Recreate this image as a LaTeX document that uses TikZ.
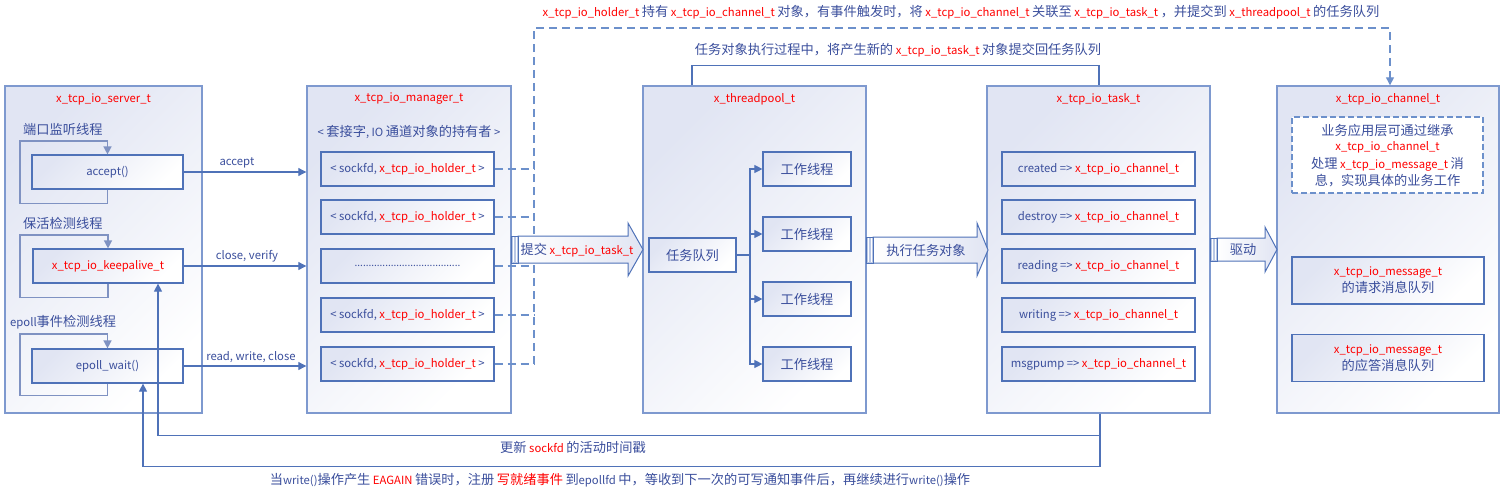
\documentclass[tikz,border=0pt]{standalone}
\usepackage{fontspec}
\setmainfont{Noto Sans CJK SC}
\newfontface\cjkface{Noto Sans CJK SC}[Scale=1.17]
\usetikzlibrary{arrows.meta}
\XeTeXinterchartokenstate=1
\newXeTeXintercharclass\CJKcls
\count255="4E00
\loop\XeTeXcharclass\count255=\CJKcls\ifnum\count255<"9FFF\advance\count255 by 1\repeat
\count255="3000
\loop\XeTeXcharclass\count255=\CJKcls\ifnum\count255<"303F\advance\count255 by 1\repeat
\count255="FF00
\loop\XeTeXcharclass\count255=\CJKcls\ifnum\count255<"FFEF\advance\count255 by 1\repeat
\XeTeXinterchartoks 0 \CJKcls={\begingroup\cjkface}
\XeTeXinterchartoks 4095 \CJKcls={\begingroup\cjkface}
\XeTeXinterchartoks \CJKcls 0={\endgroup}
\XeTeXinterchartoks \CJKcls 4095={\endgroup}
\definecolor{tblue}{HTML}{3A4E9C}
\definecolor{tred}{HTML}{FF0000}
\definecolor{bline}{HTML}{4F72B8}
\definecolor{oline}{HTML}{7E99CF}
\definecolor{lline}{HTML}{7F92C2}
\definecolor{fillA}{HTML}{E1E5F3}
\definecolor{dline}{HTML}{6C90CB}
\newcommand{\rd}[1]{\textcolor{tred}{#1}}
\begin{document}
\begin{tikzpicture}[x=1pt,y=-1pt,
  font=\fontsize{11.3}{17}\selectfont, text=tblue,
  outer/.style={draw=oline, line width=1.4pt, top color=fillA, bottom color=white, shading angle=45, inner sep=0, minimum height=327pt},
  inbox/.style={draw=bline, line width=1.2pt, top color=fillA, bottom color=white, shading angle=45, inner sep=0, minimum height=34pt},
  msgbox/.style={draw=bline, line width=1.2pt, top color=fillA, bottom color=white, shading angle=45, inner sep=0, minimum width=192pt, minimum height=47pt, align=center},
  dashbox/.style={draw=dline, line width=1.3pt, dash pattern=on 6pt off 3pt, fill=white, inner sep=0, minimum width=191pt, minimum height=76pt},
  conn/.style={draw=bline, line width=1.1pt, -{Triangle[length=8pt,width=8pt]}},
  plainconn/.style={draw=bline, line width=1.1pt},
  loopline/.style={draw=lline, line width=1.4pt, -{Triangle[length=8pt,width=8pt]}},
  dashconn/.style={draw=dline, line width=1.3pt, dash pattern=on 8pt off 5pt},
  barrow/.style={draw=bline, line width=1pt, top color=white, bottom color=fillA, shading angle=90},
  btail/.style={draw=bline, line width=0.8pt, fill=fillA!60!oline},
  lbl/.style={inner sep=1pt}
]
\useasboundingbox (0,0) rectangle (1504,496);

% ---------- outer containers ----------
\node[outer, minimum width=197pt] (server) at (103.5,249.5) {};
\node[outer, minimum width=204pt] (mgr) at (409,249.5) {};
\node[outer, minimum width=223pt] (pool) at (754.5,249.5) {};
\node[outer, minimum width=223pt] (task) at (1098.5,249.5) {};
\node[outer, minimum width=222pt] (chan) at (1388,249.5) {};

\node[lbl] (tserver) at (103.5,99) {\rd{x\_tcp\_io\_server\_t}};
\node[lbl] (tmgr) at (409,99) {\rd{x\_tcp\_io\_manager\_t}};
\node[lbl] (tpool) at (754.5,99) {\rd{x\_threadpool\_t}};
\node[lbl] (ttask) at (1098.5,99) {\rd{x\_tcp\_io\_task\_t}};
\node[lbl] (tchan) at (1388,99) {\rd{x\_tcp\_io\_channel\_t}};

% ---------- server ----------
\node[lbl, anchor=west] (l1) at (22,129) {端口监听线程};
\node[lbl, anchor=west] (l2) at (22,223) {保活检测线程};
\node[lbl, anchor=west] (l3) at (9,322) {epoll事件检测线程};

\node[inbox, minimum width=151pt] (acc) at (107.5,172) {accept()};
\node[inbox, minimum width=150pt] (kp) at (108,266) {\rd{x\_tcp\_io\_keepalive\_t}};
\node[inbox, minimum width=151pt] (ep) at (107.5,366) {epoll\_wait()};

\draw[loopline] (acc.south) -- ++(0,14) -| (20,141) -| (acc.north);
\draw[loopline] (kp.south) -- ++(0,14) -| (20,235) -| (kp.north);
\draw[loopline] (ep.south) -- ++(0,12) -| (20,334) -| (ep.north);

\draw[conn] (acc.east) -- (acc.east -| mgr.west) node[midway, above=2pt, xshift=-8pt, lbl] (la) {accept};
\draw[conn] (kp.east) -- (kp.east -| mgr.west) node[midway, above=2pt, xshift=2pt, lbl] (lb) {close, verify};
\draw[conn] (ep.east) -- (ep.east -| mgr.west) node[midway, above=2pt, xshift=6pt, lbl] (lc) {read, write, close};

% ---------- manager ----------
\node[lbl] (sub) at (409,132) {< 套接字, IO 通道对象的持有者 >};
\node[inbox, minimum width=173pt] (h1) at (407.5,169) {< sockfd, \rd{x\_tcp\_io\_holder\_t} >};
\node[inbox, minimum width=173pt] (h2) at (407.5,217) {< sockfd, \rd{x\_tcp\_io\_holder\_t} >};
\node[inbox, minimum width=173pt] (h3) at (407.5,266) {\fontsize{10}{10}\selectfont ......................................};
\node[inbox, minimum width=173pt] (h4) at (407.5,315) {< sockfd, \rd{x\_tcp\_io\_holder\_t} >};
\node[inbox, minimum width=173pt] (h5) at (407.5,364) {< sockfd, \rd{x\_tcp\_io\_holder\_t} >};

\coordinate (bus) at (534,364);
\coordinate (busTop) at (534,28);
\draw[dashconn] (h1.east) -- (h1.east -| bus);
\draw[dashconn] (h2.east) -- (h2.east -| bus);
\draw[dashconn] (h3.east) -- (h3.east -| bus);
\draw[dashconn] (h4.east) -- (h4.east -| bus);
\draw[dashconn] (h5.east) -- (bus);
\draw[dashconn, -{Triangle[length=8pt,width=8pt]}] (bus) -- (busTop) -| ([xshift=2pt]chan.north);

\node[lbl] (toptext) at (961,12) {\rd{x\_tcp\_io\_holder\_t} 持有 \rd{x\_tcp\_io\_channel\_t} 对象，有事件触发时，将 \rd{x\_tcp\_io\_channel\_t} 关联至 \rd{x\_tcp\_io\_task\_t} ，并提交到 \rd{x\_threadpool\_t} 的任务队列};

% ---------- feedback line ----------
\draw[plainconn] ([xshift=-62.5pt]pool.north) -- ++(0,-20) -| ([xshift=0.5pt]task.north);
\node[lbl] (fbtext) at (898,50) {任务对象执行过程中，将产生新的 \rd{x\_tcp\_io\_task\_t} 对象提交回任务队列};

% ---------- big arrows ----------
\draw[barrow] (518,236) -- (628,236) -- (628,223) -- (643,249.5) -- (628,276) -- (628,263) -- (518,263) -- cycle;
\draw[btail] (511,236) rectangle (518,263);
\draw[draw=white, line width=0.6pt] (513.5,237) -- (513.5,262) (516,237) -- (516,262);
\node[lbl] (a1) at (577,250) {提交 \rd{x\_tcp\_io\_task\_t}};

\draw[barrow] (873,237) -- (977,237) -- (977,223) -- (988,250) -- (977,276) -- (977,263) -- (873,263) -- cycle;
\draw[btail] (866,237) rectangle (873,263);
\draw[draw=white, line width=0.6pt] (868.5,238) -- (868.5,262) (871,238) -- (871,262);
\node[lbl] (a2) at (926,250) {执行任务对象};

\draw[barrow] (1217,238) -- (1265,238) -- (1265,227) -- (1277,249.5) -- (1265,272) -- (1265,261) -- (1217,261) -- cycle;
\draw[btail] (1210,238) rectangle (1217,261);
\draw[draw=white, line width=0.6pt] (1212.5,239) -- (1212.5,260) (1215,239) -- (1215,260);
\node[lbl] (a3) at (1243,250) {驱动};

% ---------- threadpool ----------
\node[inbox, minimum width=87pt] (q) at (692.5,255) {任务队列};
\node[inbox, minimum width=88pt] (w1) at (807,169) {工作线程};
\node[inbox, minimum width=88pt] (w2) at (807,234) {工作线程};
\node[inbox, minimum width=88pt] (w3) at (807,299) {工作线程};
\node[inbox, minimum width=88pt] (w4) at (807,364) {工作线程};
\coordinate (fork) at (750,255);
\draw[plainconn] (q.east) -- (fork);
\draw[conn] (fork) |- (w1.west);
\draw[conn] (fork) |- (w2.west);
\draw[conn] (fork) |- (w3.west);
\draw[conn] (fork) |- (w4.west);

% ---------- task ----------
\node[inbox, minimum width=193pt] (k1) at (1098.5,169) {created => \rd{x\_tcp\_io\_channel\_t}};
\node[inbox, minimum width=193pt] (k2) at (1098.5,217) {destroy => \rd{x\_tcp\_io\_channel\_t}};
\node[inbox, minimum width=193pt] (k3) at (1098.5,266) {reading => \rd{x\_tcp\_io\_channel\_t}};
\node[inbox, minimum width=193pt] (k4) at (1098.5,315) {writing => \rd{x\_tcp\_io\_channel\_t}};
\node[inbox, minimum width=193pt] (k5) at (1098.5,364) {msgpump => \rd{x\_tcp\_io\_channel\_t}};

% ---------- channel ----------
\node[dashbox] (biz) at (1387.5,155) {};
\node[lbl] (bz1) at (1387.5,130) {业务应用层可通过继承};
\node[lbl] (bz2) at (1387.5,147) {\rd{x\_tcp\_io\_channel\_t}};
\node[lbl] (bz3) at (1387.5,164) {处理 \rd{x\_tcp\_io\_message\_t} 消};
\node[lbl] (bz4) at (1387.5,181) {息，实现具体的业务工作};
\node[msgbox] (m1) at (1388,280.5) {\rd{x\_tcp\_io\_message\_t}\\的请求消息队列};
\node[msgbox] (m2) at (1388,358) {\rd{x\_tcp\_io\_message\_t}\\的应答消息队列};

% ---------- bottom feedback ----------
\draw[conn] ([xshift=1.5pt]task.south) -- ++(0,22) -| ([xshift=50pt]kp.south);
\draw[conn] ([xshift=1.5pt]task.south) -- ++(0,53) -| ([xshift=35.5pt]ep.south);
\node[lbl] (ub) at (573,447) {更新 \rd{sockfd} 的活动时间戳};
\node[lbl] (eb) at (620,480) {当write()操作产生 \rd{EAGAIN} 错误时，注册 \rd{写就绪事件} 到epollfd 中，等收到下一次的可写通知事件后，再继续进行write()操作};
\end{tikzpicture}
\end{document}
